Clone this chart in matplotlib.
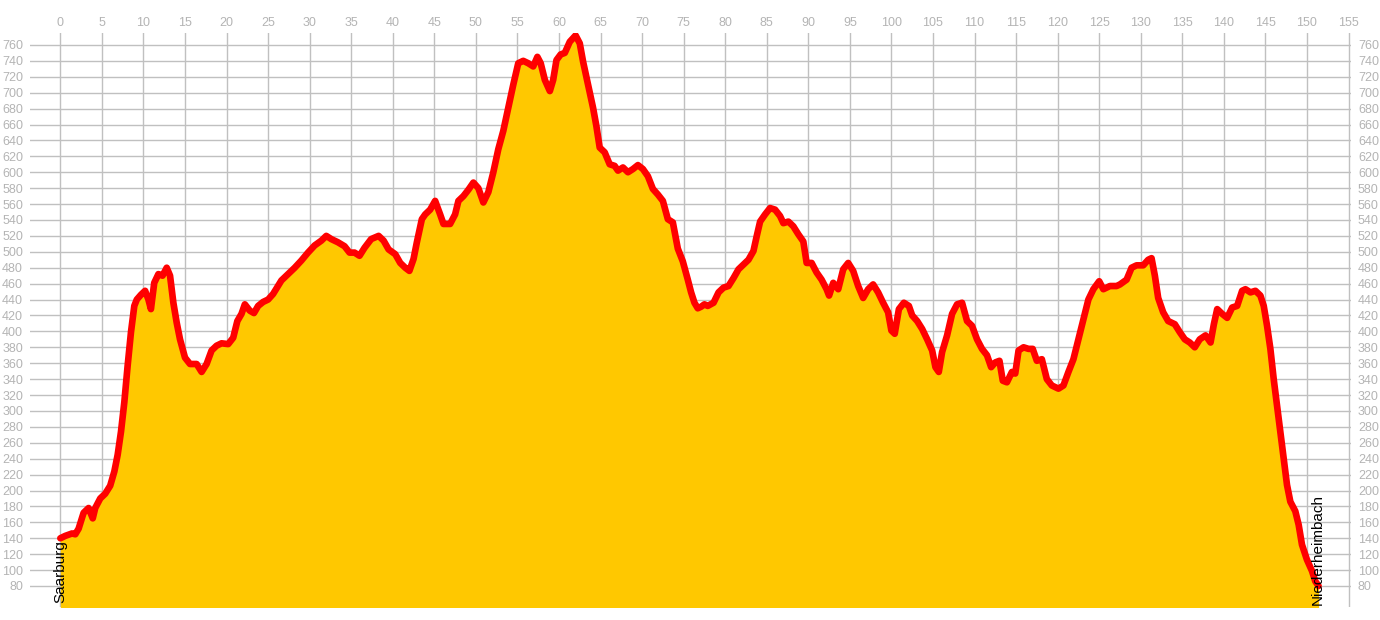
import matplotlib
matplotlib.use('Agg')
import matplotlib.pyplot as plt
import matplotlib.transforms as mtransforms

plt.rcParams['font.family'] = ['Liberation Sans', 'DejaVu Sans']

# Streckenprofil Saarburg -> Niederheimbach (km, Höhe in m)
km = [0.0, 0.6, 1.4, 1.8, 2.2, 2.8, 3.4, 3.9, 4.2, 4.8, 5.4, 6.0, 6.5, 6.9, 7.3, 7.7, 8.1, 8.5, 8.9, 9.2,
      9.7, 10.2, 10.6, 10.9, 11.3, 11.8, 12.3, 12.8, 13.2, 13.6, 14.0, 14.4, 15.0, 15.6, 16.4, 17.0, 17.6, 18.2, 18.8, 19.4,
      20.2, 20.8, 21.3, 21.8, 22.2, 22.8, 23.3, 23.8, 24.4, 25.0, 25.6, 26.6, 27.4, 28.2, 29.0, 29.8, 30.6, 31.4, 32.0, 32.6,
      33.4, 34.2, 34.8, 35.4, 36.0, 36.6, 37.4, 38.3, 38.9, 39.5, 40.3, 40.9, 41.5, 42.0, 42.5, 42.9, 43.5, 43.9, 44.5, 45.1,
      45.7, 46.1, 46.9, 47.5, 47.9, 48.5, 49.1, 49.7, 50.3, 50.9, 51.5, 52.1, 52.7, 53.3, 53.9, 54.5, 55.1, 55.7, 56.3, 56.9,
      57.4, 57.8, 58.3, 58.9, 59.3, 59.7, 60.2, 60.7, 61.3, 62.0, 62.5, 62.9, 63.5, 64.1, 64.5, 64.9, 65.5, 66.1, 66.7, 67.1,
      67.7, 68.3, 68.9, 69.5, 70.1, 70.7, 71.3, 71.9, 72.5, 73.1, 73.7, 74.3, 74.9, 75.5, 75.9, 76.3, 76.7, 77.1, 77.5, 77.9,
      78.6, 79.2, 79.8, 80.4, 81.0, 81.6, 82.2, 82.8, 83.4, 83.8, 84.2, 84.8, 85.4, 86.0, 86.6, 87.0, 87.6, 88.2, 88.8, 89.4,
      89.8, 90.4, 91.0, 91.6, 92.2, 92.5, 93.0, 93.6, 94.2, 94.8, 95.4, 96.0, 96.6, 97.2, 97.8, 98.4, 99.0, 99.6, 100.0, 100.4,
      100.9, 101.5, 102.1, 102.5, 103.1, 103.7, 104.3, 104.9, 105.3, 105.7, 106.1, 106.7, 107.3, 107.9, 108.5, 109.1, 109.7, 110.3, 110.9, 111.5,
      112.0, 112.5, 113.0, 113.4, 113.9, 114.5, 114.9, 115.3, 115.9, 116.5, 117.0, 117.5, 118.1, 118.7, 119.3, 120.1, 120.7, 121.3, 121.9, 122.5,
      123.1, 123.7, 124.3, 125.0, 125.5, 126.3, 127.1, 127.5, 128.3, 128.9, 129.5, 130.3, 130.9, 131.3, 131.7, 132.1, 132.7, 133.3, 134.1, 134.7,
      135.3, 135.9, 136.5, 137.1, 137.8, 138.4, 138.8, 139.2, 139.8, 140.4, 141.0, 141.6, 142.2, 142.6, 143.2, 143.8, 144.4, 144.8, 145.2, 145.6,
      146.0, 146.4, 146.8, 147.2, 147.6, 148.0, 148.6, 149.0, 149.4, 150.0, 150.6, 151.0, 151.4]
hoehe = [140, 143, 146, 145, 152, 172, 178, 165, 178, 190, 196, 206, 224, 245, 274, 311, 357, 399, 432, 440,
         446, 451, 440, 428, 461, 472, 470, 480, 470, 436, 411, 390, 367, 359, 359, 349, 359, 376, 382, 385,
         384, 392, 413, 422, 434, 426, 423, 432, 437, 440, 447, 464, 472, 480, 489, 499, 508, 514, 520, 516,
         512, 507, 499, 499, 495, 505, 516, 520, 514, 503, 497, 486, 480, 476, 491, 512, 541, 547, 553, 564,
         547, 535, 535, 547, 564, 570, 578, 587, 580, 562, 575, 600, 629, 652, 681, 710, 737, 740, 737, 733,
         745, 737, 716, 702, 716, 741, 748, 750, 764, 772, 762, 739, 710, 681, 658, 631, 625, 610, 608, 602,
         606, 600, 604, 609, 604, 595, 579, 572, 564, 541, 537, 504, 488, 465, 449, 436, 429, 431, 434, 432,
         436, 449, 455, 457, 467, 478, 484, 490, 501, 520, 538, 547, 555, 553, 545, 536, 538, 532, 522, 513,
         486, 486, 474, 465, 453, 445, 461, 453, 478, 486, 476, 457, 442, 453, 459, 449, 436, 424, 401, 397,
         428, 436, 432, 420, 413, 403, 390, 376, 355, 349, 374, 395, 422, 434, 436, 413, 407, 390, 378, 370,
         355, 361, 363, 338, 336, 349, 347, 376, 380, 378, 378, 363, 365, 340, 332, 328, 332, 349, 365, 390,
         415, 440, 453, 463, 453, 457, 457, 459, 465, 480, 483, 483, 490, 492, 470, 442, 424, 413, 409, 399,
         390, 386, 380, 390, 395, 386, 409, 428, 422, 417, 430, 432, 451, 453, 449, 451, 445, 432, 407, 378,
         340, 307, 274, 240, 207, 186, 174, 157, 132, 113, 99, 86, 80]

x_ticks = list(range(0, 156, 5))
y_ticks = list(range(80, 761, 20))
start_ort = 'Saarburg'
ziel_ort = 'Niederheimbach'

fig = plt.figure(figsize=(13.8, 6.2), dpi=100)
ax = fig.add_axes([30 / 1380, 13 / 620, 1321 / 1380, 574 / 620])

ax.fill_between(km, hoehe, 0, color='#FFC800', linewidth=0, zorder=2)
ax.plot(km, hoehe, color='#FF0000', linewidth=4.8, solid_joinstyle='round',
        solid_capstyle='round', zorder=3)

ax.set_xlim(-3.65, 155.3)
ax.set_ylim(53.6, 775)
ax.set_xticks(x_ticks)
ax.set_yticks(y_ticks)
ax.grid(True, color='#C0C0C0', linewidth=1.0, zorder=0)
ax.set_axisbelow(True)
for s in ax.spines.values():
    s.set_visible(False)

ax.tick_params(axis='x', bottom=False, top=True, labelbottom=False, labeltop=True,
               length=0, pad=3, labelsize=9, labelcolor='#B4B4B4')
ax.tick_params(axis='y', left=True, right=True, labelleft=True, labelright=True,
               length=0, pad=5, labelsize=9, labelcolor='#B4B4B4')

trans = mtransforms.blended_transform_factory(ax.transData, ax.transAxes)
ax.text(0, 0.007, start_ort, rotation=90, ha='center', va='bottom',
        fontsize=11, color='black', transform=trans, zorder=4)
ax.text(151.3, 0.004, ziel_ort, rotation=90, ha='center', va='bottom',
        fontsize=11, color='black', transform=trans, zorder=4)

fig.savefig('out.png', dpi=100)
